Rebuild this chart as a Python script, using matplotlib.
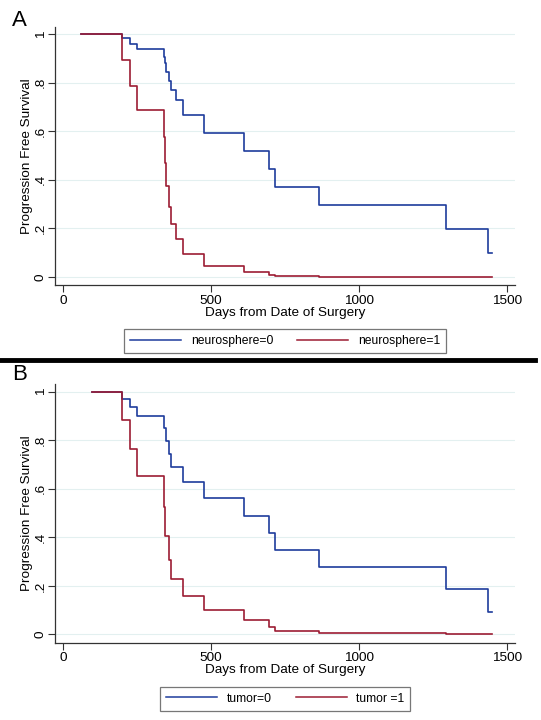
import matplotlib
matplotlib.use("Agg")
import matplotlib.pyplot as plt
from matplotlib.lines import Line2D

plt.rcParams['font.family'] = ['Liberation Sans', 'DejaVu Sans']

# panel A: neurosphere
days_a0 = [60, 200, 226, 249, 340, 344, 347, 359, 364, 382, 407, 477, 613, 696, 718, 864, 1295, 1436, 1449]
surv_a0 = [1.0, 0.983, 0.961, 0.938, 0.908, 0.880, 0.846, 0.807, 0.770, 0.729, 0.667, 0.594, 0.519, 0.444, 0.371, 0.296, 0.196, 0.096, 0.096]
days_a1 = [60, 200, 226, 249, 340, 344, 347, 359, 364, 382, 407, 477, 613, 696, 718, 864, 1295, 1436, 1449]
surv_a1 = [1.0, 0.894, 0.787, 0.688, 0.575, 0.468, 0.374, 0.286, 0.216, 0.154, 0.092, 0.045, 0.021, 0.008, 0.003, 0.001, 0.0, 0.0, 0.0]

# panel B: tumor
days_b0 = [99, 200, 226, 249, 340, 347, 359, 364, 407, 477, 613, 696, 718, 864, 1295, 1436, 1449]
surv_b0 = [1.0, 0.969, 0.936, 0.900, 0.849, 0.798, 0.742, 0.691, 0.629, 0.561, 0.489, 0.419, 0.349, 0.279, 0.186, 0.092, 0.092]
days_b1 = [99, 200, 226, 249, 340, 345, 359, 364, 407, 477, 613, 696, 718, 864, 1295, 1436, 1449]
surv_b1 = [1.0, 0.881, 0.763, 0.653, 0.524, 0.405, 0.305, 0.228, 0.158, 0.100, 0.059, 0.029, 0.015, 0.007, 0.002, 0.0, 0.0]

xticks = [0, 500, 1000, 1500]
yticks = [0, 0.2, 0.4, 0.6, 0.8, 1.0]
ytick_labels = ['0', '.2', '.4', '.6', '.8', '1']

BLUE = '#1e3c9c'
RED = '#9c1c33'
W, H = 541, 720


def setup_axes(ax):
    ax.set_xlim(-27, 1528)
    ax.set_ylim(-0.034, 1.031)
    for s in ['top', 'right']:
        ax.spines[s].set_visible(False)
    for s in ['left', 'bottom']:
        ax.spines[s].set_color('#333333')
        ax.spines[s].set_linewidth(0.9)
    ax.set_xticks(xticks)
    ax.set_yticks(yticks)
    ax.set_yticklabels(ytick_labels, rotation=90, va='center')
    ax.tick_params(length=5, width=0.8, color='#333333', labelsize=9.7, pad=2)
    ax.tick_params(axis='y', pad=1)
    ax.yaxis.grid(True, color='#e3f0f0', lw=0.8)
    ax.set_axisbelow(True)
    ax.set_xlabel('Days from Date of Surgery', fontsize=9.7, labelpad=0)
    ax.set_ylabel('Progression Free Survival', fontsize=9.7, labelpad=1.5)


def add_legend(fig, labels, cy):
    handles = [Line2D([], [], color=BLUE, lw=1.1), Line2D([], [], color=RED, lw=1.1)]
    leg = fig.legend(handles, labels, loc='center', bbox_to_anchor=(285.3 / W, 1 - cy / H),
                     ncol=2, fontsize=8.7, frameon=True, fancybox=False,
                     handlelength=4.2, handletextpad=0.8, columnspacing=2.0, borderpad=0.5)
    leg.get_frame().set_edgecolor('#555555')
    leg.get_frame().set_linewidth(0.9)


fig = plt.figure(figsize=(W / 100, H / 100), dpi=100)

ax_a = fig.add_axes([55 / W, 1 - 285 / H, 460 / W, (285 - 26.7) / H])
ax_a.step(days_a0, surv_a0, where='post', color=BLUE, lw=1.2)
ax_a.step(days_a1, surv_a1, where='post', color=RED, lw=1.2)
setup_axes(ax_a)

ax_b = fig.add_axes([55 / W, 1 - 642.7 / H, 460 / W, (642.7 - 384) / H])
ax_b.step(days_b0, surv_b0, where='post', color=BLUE, lw=1.2)
ax_b.step(days_b1, surv_b1, where='post', color=RED, lw=1.2)
setup_axes(ax_b)

add_legend(fig, ['neurosphere=0', 'neurosphere=1'], 340.8)
add_legend(fig, ['tumor=0', 'tumor =1'], 698.7)

# separator between the panels
fig.add_artist(Line2D([0, 535 / W], [1 - 360 / H, 1 - 360 / H], color='black', lw=3.5))

fig.text(12 / W, 1 - 21 / H, 'A', fontsize=16, ha='left', va='center')
fig.text(12 / W, 1 - 375 / H, 'B', fontsize=16, ha='left', va='center')

fig.savefig('out.png', dpi=100)
